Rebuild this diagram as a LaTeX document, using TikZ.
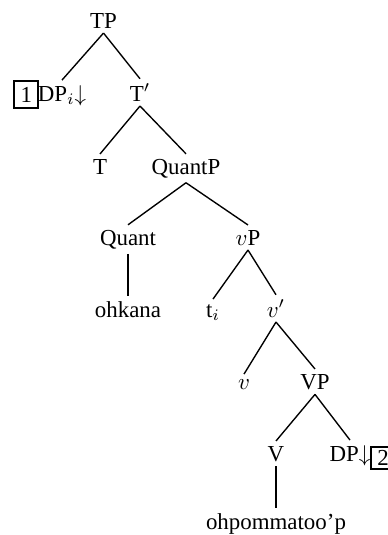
\documentclass[tikz,border=0pt]{standalone}
\usepackage{fontspec}
\setmainfont{Liberation Serif}
\begin{document}
\begin{tikzpicture}[x=0.4367pt,y=-0.4367pt,
  lbl/.style={anchor=base,inner sep=2pt,font=\fontsize{10}{12}\selectfont},
  edge/.style={line width=0.6pt},
  numbox/.style={draw,line width=0.9pt,inner sep=0pt,minimum width=10.5pt,minimum height=11.8pt,font=\fontsize{10}{12}\selectfont}]
\useasboundingbox (0,0) rectangle (388,535);
% nodes
\node[lbl] (TP) at (103.5,28) {TP};
\node[lbl] (DPi) at (62,101) {DP$_i{\downarrow}$};
\node[numbox] (b1) at (26.3,94.6) {1};
\node[lbl] (Tbar) at (140,101) {T$'$};
\node[lbl] (T) at (100,174) {T};
\node[lbl] (QuantP) at (186,174) {QuantP};
\node[lbl] (Quant) at (128,245) {Quant};
\node[lbl] (vP) at (248,245) {$v$P};
\node[lbl] (ohkana) at (128,317) {ohkana};
\node[lbl] (ti) at (213,317) {t$_i$};
\node[lbl] (vbar) at (276,317) {$v'$};
\node[lbl] (v) at (244,389) {$v$};
\node[lbl] (VP) at (315,389) {VP};
\node[lbl] (V) at (276,461) {V};
\node[lbl] (DP) at (350,461) {DP${\downarrow}$};
\node[numbox,minimum height=10pt] (b2) at (383,458) {2};
\node[lbl] (ohp) at (276,529) {ohpommatoo'p};
% edges
\draw[edge] (TP.south) -- (DPi.north);
\draw[edge] (TP.south) -- (Tbar.north);
\draw[edge] (Tbar.south) -- (T.north);
\draw[edge] (Tbar.south) -- (QuantP.north);
\draw[edge] (QuantP.south) -- (Quant.north);
\draw[edge] (QuantP.south) -- (vP.north);
\draw[edge] (Quant.south) -- (ohkana.north);
\draw[edge] (vP.south) -- (ti.north);
\draw[edge] (vP.south) -- (vbar.north);
\draw[edge] (vbar.south) -- (v.north);
\draw[edge] (vbar.south) -- (VP.north);
\draw[edge] (VP.south) -- (V.north);
\draw[edge] (VP.south) -- (DP.north);
\draw[edge] (V.south) -- (ohp.north);
\end{tikzpicture}
\end{document}
